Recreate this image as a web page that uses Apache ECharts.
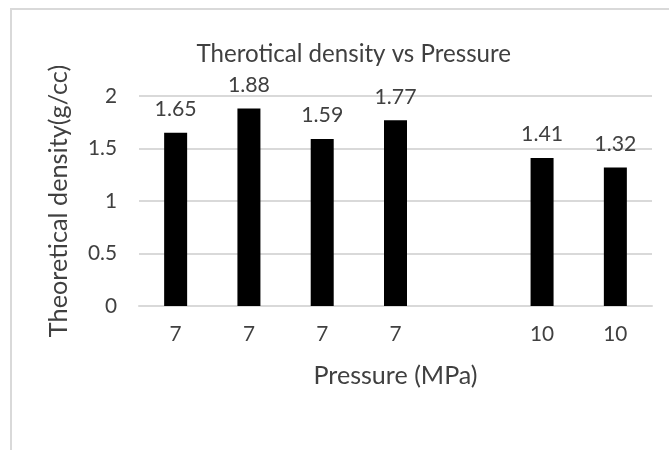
<!DOCTYPE html>
<html>
<head>
<meta charset="utf-8">
<script src="https://cdn.jsdelivr.net/npm/echarts@6/dist/echarts.min.js"></script>
<style>html,body{margin:0;padding:0;background:#fff}#chart{width:669px;height:450px}</style>
</head>
<body>
<div id="chart"></div>
<script>
const titleText = 'Therotical density vs Pressure';
const xAxisTitle = 'Pressure (MPa)';
const yAxisTitle = 'Theoretical density(g/cc)';
const categories = ['7', '7', '7', '7', '', '10', '10'];
const densities = [1.65, 1.88, 1.59, 1.77, null, 1.41, 1.32];
const yTicks = [0, 0.5, 1, 1.5, 2];

const FAMILY = 'Lato, "Open Sans", sans-serif';
function fitSize(text, target) {
  const ctx = document.createElement('canvas').getContext('2d');
  ctx.font = '100px ' + FAMILY;
  return Math.round(100 * target / ctx.measureText(text).width * 10) / 10;
}
const titleSize = fitSize(titleText, 315);
const xNameSize = fitSize(xAxisTitle, 164);
const yNameSize = fitSize(yAxisTitle, 272);
const labelSize = fitSize('1.65', 42);
const tickSize = fitSize('1.5', 29);
const textColor = '#404040';
const gridColor = '#d9d9d9';

const chart = echarts.init(document.getElementById('chart'), null, {renderer: 'canvas'});
chart.setOption({
  animation: false,
  backgroundColor: '#fff',
  graphic: [{
    type: 'rect', shape: {x: 11, y: 9, width: 900, height: 900},
    style: {fill: 'none', stroke: gridColor, lineWidth: 2}, silent: true, z: -1
  }],
  title: {
    text: titleText,
    left: 349 - 315 / 2,
    top: 50 - titleSize * 0.55,
    textStyle: {fontFamily: FAMILY, fontWeight: 'normal', fontSize: titleSize, color: textColor}
  },
  grid: {left: 139, right: 17, top: 96, bottom: 144, containLabel: false},
  xAxis: {
    type: 'category',
    data: categories,
    name: xAxisTitle,
    nameLocation: 'middle',
    nameGap: 57,
    nameTextStyle: {fontFamily: FAMILY, fontSize: xNameSize, color: textColor},
    axisLine: {show: true, lineStyle: {color: gridColor, width: 2}},
    axisTick: {show: false},
    axisLabel: {fontFamily: FAMILY, fontSize: tickSize, color: textColor, margin: 18, interval: 0},
    splitLine: {show: false}
  },
  yAxis: {
    type: 'value',
    min: yTicks[0],
    max: yTicks[yTicks.length - 1],
    interval: yTicks[1] - yTicks[0],
    name: yAxisTitle,
    nameLocation: 'middle',
    nameGap: 68,
    nameTextStyle: {fontFamily: FAMILY, fontSize: yNameSize, color: textColor},
    axisLine: {show: false},
    axisTick: {show: false},
    axisLabel: {fontFamily: FAMILY, fontSize: tickSize, color: textColor, margin: 22},
    splitLine: {show: true, lineStyle: {color: gridColor, width: 2}}
  },
  series: [{
    type: 'bar',
    data: densities,
    barWidth: 23,
    itemStyle: {color: '#000000'},
    label: {
      show: true, position: 'top', distance: 13,
      fontFamily: FAMILY, fontSize: labelSize, color: textColor,
      formatter: p => p.value == null ? '' : String(p.value)
    }
  }]
});
</script>
</body>
</html>
